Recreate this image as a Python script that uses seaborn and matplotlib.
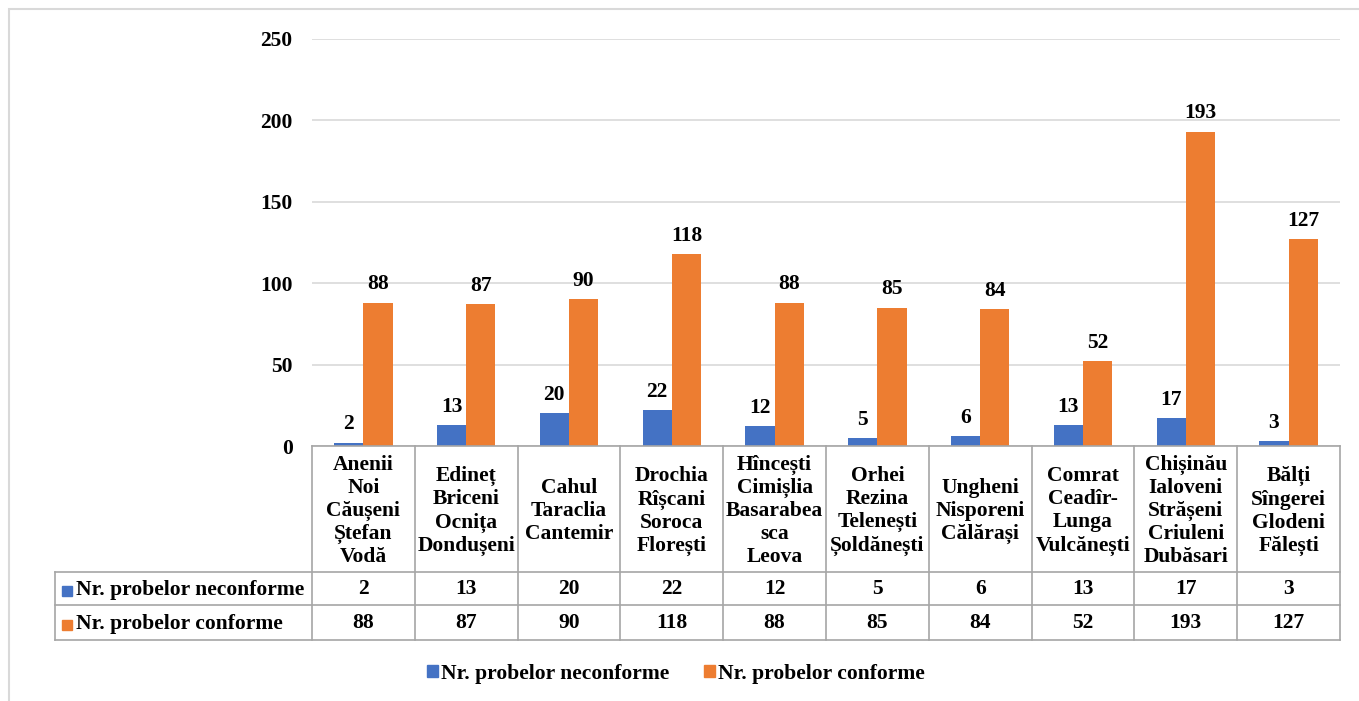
import matplotlib
matplotlib.use("Agg")
import matplotlib.pyplot as plt
import matplotlib.transforms as mtransforms
from matplotlib.lines import Line2D
from matplotlib.patches import Rectangle
import seaborn as sns
import pandas as pd

categories = [
    "Anenii\nNoi\nCăușeni\nȘtefan\nVodă",
    "Edineț\nBriceni\nOcnița\nDondușeni",
    "Cahul\nTaraclia\nCantemir",
    "Drochia\nRîșcani\nSoroca\nFlorești",
    "Hîncești\nCimișlia\nBasarabea\nsca\nLeova",
    "Orhei\nRezina\nTelenești\nȘoldănești",
    "Ungheni\nNisporeni\nCălărași",
    "Comrat\nCeadîr-\nLunga\nVulcănești",
    "Chișinău\nIaloveni\nStrășeni\nCriuleni\nDubăsari",
    "Bălți\nSîngerei\nGlodeni\nFălești",
]
series_names = ["Nr. probelor neconforme", "Nr. probelor conforme"]
neconforme = [2, 13, 20, 22, 12, 5, 6, 13, 17, 3]
conforme = [88, 87, 90, 118, 88, 85, 84, 52, 193, 127]
y_ticks = [0, 50, 100, 150, 200, 250]
colors = ["#4472C4", "#ED7D31"]

df = pd.DataFrame({
    "cat": categories * 2,
    "series": [series_names[0]] * len(categories) + [series_names[1]] * len(categories),
    "value": neconforme + conforme,
})

W, H = 1359, 701
fig = plt.figure(figsize=(W / 100, H / 100), dpi=100)
FONT = ["Liberation Serif", "DejaVu Serif"]
plt.rcParams["font.family"] = FONT
plt.rcParams["font.weight"] = "bold"
FS = 15.5

def fx(x):
    return x / W

def fy(y):
    return 1 - y / H

ax_left, ax_right, ax_top, ax_bottom = 312, 1340, 39, 446
ax = fig.add_axes([fx(ax_left), fy(ax_bottom), fx(ax_right - ax_left), (ax_bottom - ax_top) / H])

sns.barplot(data=df, x="cat", y="value", hue="series", palette=colors,
            width=0.57, ax=ax, legend=False, saturation=1)

ax.set_xlim(-0.5, len(categories) - 0.5)
ax.set_ylim(0, 250)
ax.set_yticks(y_ticks)
ax.set_yticklabels([str(t) for t in y_ticks], fontsize=FS, fontweight="bold")
ax.tick_params(axis="y", length=0, pad=14)
ax.set_xticks([])
ax.set_xlabel("")
ax.set_ylabel("")
for s in ["top", "right", "left"]:
    ax.spines[s].set_visible(False)
ax.spines["bottom"].set_color("#A6A6A6")
ax.spines["bottom"].set_linewidth(1.2)
ax.yaxis.grid(True, color="#D9D9D9", linewidth=1.2)
ax.set_axisbelow(True)

for cont in ax.containers:
    ax.bar_label(cont, fmt="%d", padding=6, fontsize=FS, fontweight="bold")

# Data table
trans = mtransforms.blended_transform_factory(ax.transData, fig.transFigure)
tc = "#A6A6A6"
lw = 1.2
y_head_top, y_r1, y_r2, y_bot = 446, 572, 605, 640
tab_left = 55
for yy in [y_r1, y_r2, y_bot]:
    fig.add_artist(Line2D([fx(tab_left), fx(ax_right)], [fy(yy), fy(yy)], color=tc, lw=lw))
n = len(categories)
for i in range(n + 1):
    fig.add_artist(Line2D([i - 0.5, i - 0.5], [fy(y_head_top), fy(y_bot)], color=tc, lw=lw,
                          transform=trans))
fig.add_artist(Line2D([fx(tab_left), fx(tab_left)], [fy(y_r1), fy(y_bot)], color=tc, lw=lw))

for i, name in enumerate(categories):
    fig.text(i, fy((y_head_top + y_r1) / 2 + 2), name, transform=trans, ha="center", va="center",
             fontsize=FS, fontweight="bold", linespacing=1.2)
    fig.text(i, fy((y_r1 + y_r2) / 2 + 1), str(neconforme[i]), transform=trans, ha="center",
             va="center", fontsize=FS, fontweight="bold")
    fig.text(i, fy((y_r2 + y_bot) / 2 + 1), str(conforme[i]), transform=trans, ha="center",
             va="center", fontsize=FS, fontweight="bold")

for k, (yy0, yy1) in enumerate([(y_r1, y_r2), (y_r2, y_bot)]):
    yc = fy((yy0 + yy1) / 2 + 2)
    fig.add_artist(Rectangle((fx(62), yc - 5 / H), 10 / W, 10 / H, color=colors[k],
                             transform=fig.transFigure))
    fig.text(fx(76), fy((yy0 + yy1) / 2 + 1), series_names[k], ha="left", va="center",
             fontsize=FS, fontweight="bold")

# Legend
handles = [Rectangle((0, 0), 1, 1, color=c) for c in colors]
leg = fig.legend(handles, series_names, loc="center", bbox_to_anchor=(fx(676), fy(674)),
                 ncol=2, frameon=False, prop={"size": FS, "weight": "bold", "family": FONT},
                 handlelength=0.5, handleheight=0.5, handletextpad=0.15, columnspacing=1.6)

# Outer frame
fig.add_artist(Rectangle((fx(9), fy(H + 20)), fx(W + 20), (H + 20 - 9) / H, fill=False,
                         edgecolor="#D9D9D9", lw=1.5, transform=fig.transFigure))

fig.savefig("out.png", dpi=100, facecolor="white")
